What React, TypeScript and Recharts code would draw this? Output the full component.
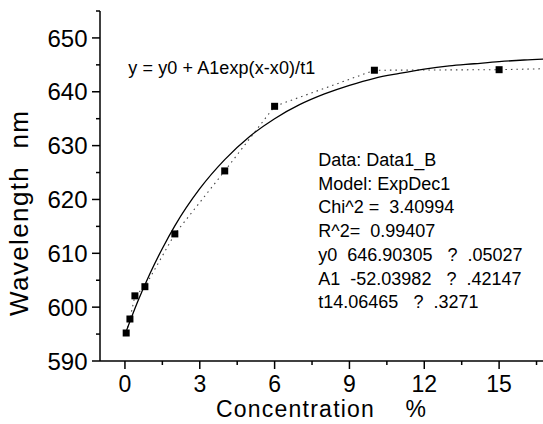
import { ComposedChart, Line, Scatter, XAxis, YAxis } from 'recharts'

const FONT = "'Liberation Sans', Arial, sans-serif"

// measured points
const concentration = [0.05, 0.2, 0.4, 0.8, 2, 4, 6, 10, 15]
const wavelength = [595.2, 597.8, 602.1, 603.8, 613.6, 625.3, 637.3, 644.0, 644.1]

// dotted line through the points, leaves the frame on the right
const guideX = [0.05, 0.2, 0.4, 0.8, 2, 4, 6, 10, 15, 17]
const guideY = [595.2, 597.8, 602.1, 603.8, 613.6, 625.3, 637.3, 644.0, 644.1, 644.3]

// ExpDec1 fit curve
const fitX = [0.05, 0.5, 1, 1.5, 2, 3, 4, 5, 6, 7, 8, 9, 10, 11, 12, 13, 14, 15, 16, 17]
const fitY = [595.5, 600.9, 606.2, 610.9, 615.1, 622.0, 627.4, 631.7, 635.0, 637.6, 639.6, 641.2, 642.5, 643.4, 644.2, 644.8, 645.2, 645.6, 645.9, 646.1]

const xMajor = [0, 3, 6, 9, 12, 15]
const xMinor = [1.5, 4.5, 7.5, 10.5, 13.5, 16.5]
const yMajor = [590, 600, 610, 620, 630, 640, 650]
const yMinor = [595, 605, 615, 625, 635, 645, 655]

const xTitle = 'Concentration\u00A0\u00A0\u00A0\u00A0%'
const yTitle = 'Wavelength\u00A0\u00A0nm'
const equation = 'y = y0 + A1exp(x-x0)/t1'
const fitInfo = [
  'Data: Data1_B',
  'Model: ExpDec1',
  'Chi^2 =  3.40994',
  'R^2=  0.99407',
  'y0  646.90305   ?  .05027',
  'A1  -52.03982   ?  .42147',
  't14.06465   ?  .3271',
]

const points = concentration.map((x, i) => ({ x, y: wavelength[i] }))
const guide = guideX.map((x, i) => ({ x, y: guideY[i] }))
const fit = fitX.map((x, i) => ({ x, y: fitY[i] }))

const XTick = (props: any) => {
  const { x, y, payload } = props
  const major = xMajor.includes(payload.value)
  return (
    <g>
      <line x1={x} x2={x} y1={y} y2={y + (major ? 8 : 4)} stroke="#000" strokeWidth={1.5} />
      {major && (
        <text x={x} y={y + 14} dy="0.72em" textAnchor="middle" fontSize={23} fontFamily={FONT} fill="#000">
          {payload.value}
        </text>
      )}
    </g>
  )
}

const YTick = (props: any) => {
  const { x, y, payload } = props
  const major = yMajor.includes(payload.value)
  return (
    <g>
      <line x1={x} x2={x - (major ? 8 : 4)} y1={y} y2={y} stroke="#000" strokeWidth={1.5} />
      {major && (
        <text x={x - 12.5} y={y} dy="0.36em" textAnchor="end" fontSize={24} fontFamily={FONT} fill="#000">
          {payload.value}
        </text>
      )}
    </g>
  )
}

const Square = (p: any) => <rect x={p.cx - 3.5} y={p.cy - 3.5} width={7} height={7} fill="#000" />

export default function App() {
  return (
    <div style={{ position: 'fixed', left: 0, top: 0, width: 543, height: 424, overflow: 'hidden', background: '#fff' }}>
      <ComposedChart width={560} height={424} margin={{ top: 11, right: 11, left: 0, bottom: 0 }}>
        <XAxis
          type="number"
          dataKey="x"
          domain={[-1, 17]}
          ticks={[...xMajor, ...xMinor].sort((a, b) => a - b)}
          interval={0}
          height={63}
          tickSize={0}
          tickMargin={0}
          tickLine={false}
          tick={XTick}
          axisLine={{ stroke: '#000', strokeWidth: 1.5 }}
          allowDataOverflow
        />
        <YAxis
          type="number"
          dataKey="y"
          domain={[590, 655]}
          ticks={[...yMajor, ...yMinor].sort((a, b) => a - b)}
          interval={0}
          width={100}
          tickSize={0}
          tickMargin={0}
          tickLine={false}
          tick={YTick}
          axisLine={{ stroke: '#000', strokeWidth: 1.5 }}
          allowDataOverflow
        />
        <Line
          data={guide}
          dataKey="y"
          type="linear"
          stroke="#444"
          strokeWidth={1.1}
          strokeDasharray="1.5 4"
          dot={false}
          isAnimationActive={false}
        />
        <Line
          data={fit}
          dataKey="y"
          type="monotone"
          stroke="#000"
          strokeWidth={1.3}
          dot={false}
          isAnimationActive={false}
        />
        <Scatter data={points} dataKey="y" shape={Square} isAnimationActive={false} />
      </ComposedChart>

      <svg width={543} height={424} style={{ position: 'absolute', left: 0, top: 0, pointerEvents: 'none' }}>
        <g fontFamily={FONT} fill="#000">
          <text x={28} y={213.5} transform="rotate(-90 28 213.5)" textAnchor="middle" fontSize={26} textLength={205} lengthAdjust="spacing">
            {yTitle}
          </text>
          <text x={321} y={417} textAnchor="middle" fontSize={23} textLength={210} lengthAdjust="spacing">
            {xTitle}
          </text>
          <text x={128.3} y={74} fontSize={18} textLength={187} lengthAdjust="spacing">
            {equation}
          </text>
          {fitInfo.map((line, i) => (
            <text key={i} x={318.3} y={166 + i * 23.7} fontSize={18} style={{ whiteSpace: 'pre' }}>
              {line}
            </text>
          ))}
        </g>
      </svg>
    </div>
  )
}
